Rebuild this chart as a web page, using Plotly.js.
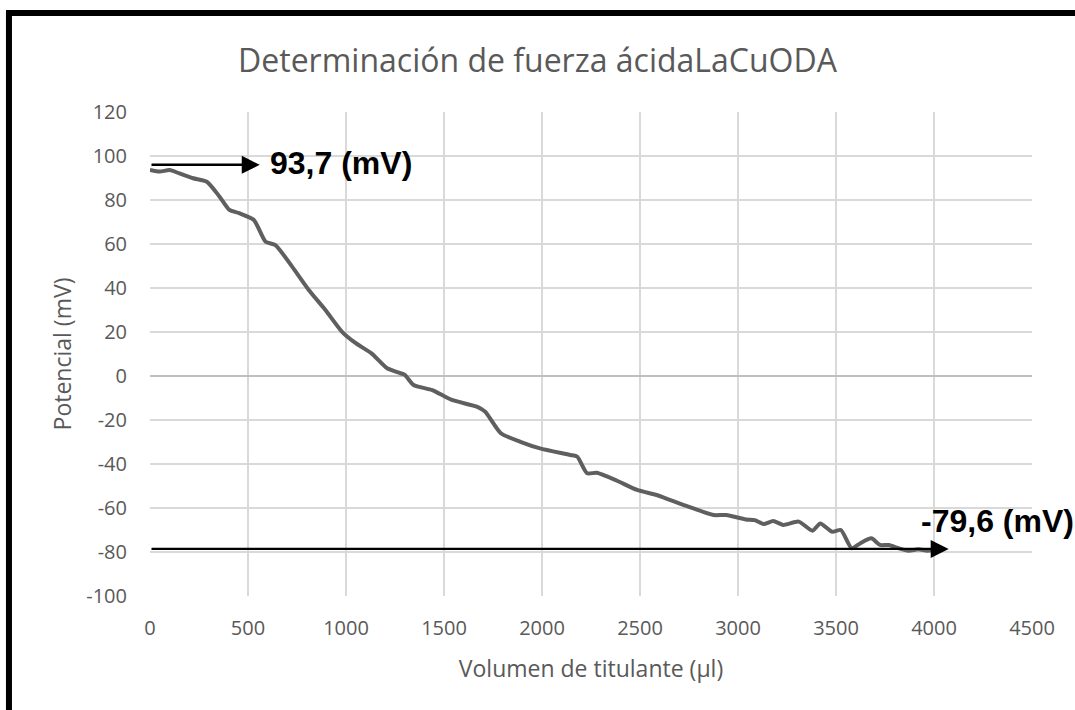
<!DOCTYPE html>
<html>
<head>
<meta charset="utf-8">
<script src="https://cdn.plot.ly/plotly-3.0.1.min.js"></script>
<style>
  html, body { margin: 0; padding: 0; background: #ffffff; }
  #chart { width: 1075px; height: 710px; }
</style>
</head>
<body>
<div id="chart"></div>
<script>
// Volume of titrant (µl)
const volumen = [0, 50, 100, 150, 220, 290, 355, 405, 455, 530, 590, 640, 725, 810, 895, 980, 1050, 1130, 1210, 1270, 1300, 1345, 1440, 1540, 1670, 1710, 1790, 1890, 1990, 2145, 2180, 2230, 2280, 2380, 2485, 2585, 2655, 2750, 2875, 2940, 3040, 3085, 3130, 3180, 3230, 3310, 3380, 3420, 3480, 3525, 3580, 3625, 3680, 3725, 3770, 3820, 3870, 3920, 3965, 4000];
// Potential (mV)
const potencial = [93.7, 92.9, 93.6, 92.1, 89.9, 88.3, 81.5, 75.5, 74, 70.9, 61, 59.5, 49.7, 39.1, 30, 20.1, 14.9, 10.3, 3.5, 1.5, 0.5, -4.1, -6.4, -10.9, -14, -16.2, -26, -29.9, -32.9, -35.9, -36.7, -44.2, -44, -47.5, -51.8, -54.1, -56.4, -59.5, -63.2, -63.2, -65.2, -65.5, -67.3, -65.9, -67.7, -66.2, -70.3, -67, -70.8, -70, -78.3, -76, -73.8, -76.8, -76.8, -78.3, -79.4, -78.8, -79.4, -79];

const xTicks = [0, 500, 1000, 1500, 2000, 2500, 3000, 3500, 4000, 4500];
const yTicks = [-100, -80, -60, -40, -20, 0, 20, 40, 60, 80, 100, 120];

const titulo = "Determinación de fuerza ácidaLaCuODA";
const tituloX = "Volumen de titulante (µl)";
const tituloY = "Potencial (mV)";
const etiquetaInicial = "93,7 (mV)";
const etiquetaFinal = "-79,6 (mV)";

const txtColor = "#595959";
const baseFont = "Open Sans, Noto Sans, sans-serif";
const boldFont = "Liberation Sans, Arial, sans-serif";

const trace = {
  x: volumen,
  y: potencial,
  type: "scatter",
  mode: "lines",
  line: { color: "#5f5f5f", width: 4, shape: "spline", smoothing: 0.6 },
  hoverinfo: "x+y"
};

const layout = {
  width: 1075,
  height: 710,
  margin: { l: 150, r: 43, t: 112, b: 114 },
  paper_bgcolor: "#ffffff",
  plot_bgcolor: "#ffffff",
  showlegend: false,
  title: {
    text: titulo,
    font: { family: baseFont, size: 32, color: txtColor },
    x: 0.5, xanchor: "center",
    y: 0.915, yanchor: "middle"
  },
  xaxis: {
    range: [0, 4500],
    tickvals: xTicks,
    ticktext: xTicks.map(String),
    showgrid: true,
    gridcolor: "#d9d9d9",
    gridwidth: 1.3,
    zeroline: false,
    showline: false,
    ticks: "",
    ticklabelstandoff: 18,
    tickfont: { family: baseFont, size: 20, color: txtColor },
    title: { text: tituloX, font: { family: baseFont, size: 23, color: txtColor }, standoff: 20 },
    fixedrange: true
  },
  yaxis: {
    range: [-100, 120],
    tickvals: yTicks,
    ticktext: yTicks.map(String),
    showgrid: true,
    gridcolor: "#d9d9d9",
    gridwidth: 1.3,
    zeroline: true,
    zerolinecolor: "#bfbfbf",
    zerolinewidth: 1.5,
    showline: false,
    ticks: "",
    ticklabelstandoff: 22,
    tickfont: { family: baseFont, size: 20, color: txtColor },
    title: { text: tituloY, font: { family: baseFont, size: 23, color: txtColor }, standoff: 8 },
    fixedrange: true
  },
  shapes: [
    { type: "line", xref: "paper", yref: "paper", x0: -0.163, x1: 1.06, y0: 1.2045, y1: 1.2045, line: { color: "#000000", width: 6 } },
    { type: "line", xref: "paper", yref: "paper", x0: -0.1599, x1: -0.1599, y0: 1.21, y1: -0.25, line: { color: "#000000", width: 6 } }
  ],
  annotations: [
    {
      x: 560, y: 96, xref: "x", yref: "y",
      ax: 0, ay: 96, axref: "x", ayref: "y",
      showarrow: true, arrowhead: 2, arrowsize: 1.5, arrowwidth: 2.4, arrowcolor: "#000000",
      text: ""
    },
    {
      x: 4075, y: -78.6, xref: "x", yref: "y",
      ax: 0, ay: -78.6, axref: "x", ayref: "y",
      showarrow: true, arrowhead: 2, arrowsize: 1.5, arrowwidth: 2.4, arrowcolor: "#000000",
      text: ""
    },
    {
      x: 600, y: 97, xref: "x", yref: "y",
      xanchor: "left", yanchor: "middle", showarrow: false,
      text: "<b>" + etiquetaInicial + "</b>",
      font: { family: boldFont, size: 32, color: "#000000" }
    },
    {
      x: 3925, y: -66, xref: "x", yref: "y",
      xanchor: "left", yanchor: "middle", showarrow: false,
      text: "<b>" + etiquetaFinal + "</b>",
      font: { family: boldFont, size: 32, color: "#000000" }
    }
  ]
};

Plotly.newPlot("chart", [trace], layout, { displayModeBar: false, staticPlot: true });
</script>
</body>
</html>
